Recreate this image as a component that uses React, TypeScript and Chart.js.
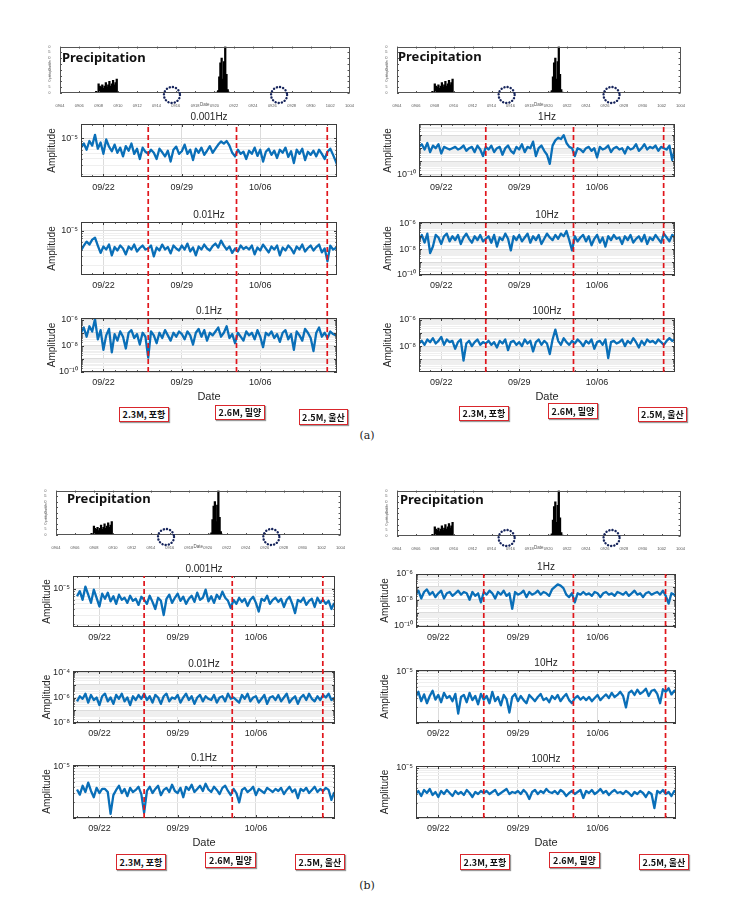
import React, { useEffect, useRef } from 'react';
import { Chart, registerables } from 'chart.js';

Chart.register(...registerables);

const SANS = '"Liberation Sans", Arial, Helvetica, sans-serif';
const KR = '"Noto Sans CJK KR", "Noto Sans", sans-serif';
const AXIS = '#3c3c3c';
const TEXT = '#262626';
const BLUE = '#0a6fb8';
const RED = '#e0161c';
const GRID_MAJOR = '#dcdcdc';
const GRID_MINOR = '#efefef';

// ---------------- data ----------------
// time axis: days since 09/20 00:00, one sample every 6 hours
const SAMPLE_STEP_DAYS = 0.25;
const dateTickDays = [2, 9, 16];
const dateTickLabels = ['09/22', '09/29', '10/06'];
const eventDays = [6.0, 13.88, 21.98];
const eventLabels = ['2.3M, 포항', '2.6M, 밀양', '2.5M, 울산'];

// precipitation (same record shown in every panel)
const precipTickDays = [0, 2, 4, 6, 8, 10, 12, 14, 16, 18, 20, 22, 24, 26, 28, 30];
const precipTickLabels = ['0904', '0906', '0908', '0910', '0912', '0914', '0916', '0918', '0920', '0922', '0924', '0926', '0928', '0930', '1002', '1004'];
const precipYTicks = [0, 5, 10, 15, 20, 25, 30, 35, 40];
const precipDays = [3.75, 4.0, 4.12, 4.25, 4.38, 4.5, 4.62, 4.75, 4.88, 5.0, 5.12, 5.25, 5.38, 5.5, 5.62, 5.75, 5.88,
  16.25, 16.38, 16.5, 16.62, 16.75, 16.88, 17.0, 17.12, 17.25, 17.38, 17.5];
const precipMm = [1.5, 8, 6, 5, 7, 4, 6, 9, 5, 7, 10, 6, 8, 11, 7, 9, 12,
  0.8, 2, 14, 26, 30, 12, 27, 40, 16, 3, 0.8];
const circleDays = [11.6, 22.7];

// amplitude series, stored as log10(amplitude)
const ampA_0001Hz = [
  -5.18, -5.10, -5.22, -5.05, -5.14, -4.93, -5.20, -5.08, -5.30, -5.02, -5.16, -5.25,
  -5.12, -5.28, -5.18, -5.35, -5.15, -5.24, -5.10, -5.30, -5.20, -5.40, -5.18, -5.26,
  -5.30, -5.22, -5.28, -5.40, -5.20, -5.27, -5.35, -5.24, -5.45, -5.22, -5.16, -5.30,
  -5.25, -5.12, -5.30, -5.22, -5.42, -5.20, -5.28, -5.18, -5.32, -5.24, -5.15, -5.28,
  -5.20, -5.12, -5.06, -5.10, -5.05, -5.14, -5.28, -5.35, -5.22, -5.30, -5.26, -5.40,
  -5.24, -5.30, -5.18, -5.34, -5.22, -5.45, -5.26, -5.20, -5.32, -5.24, -5.38, -5.22,
  -5.28, -5.18, -5.36, -5.25, -5.48, -5.22, -5.30, -5.20, -5.42, -5.26, -5.32, -5.24,
  -5.35, -5.22, -5.30, -5.40, -5.26, -5.20, -5.32, -5.45, -5.60];
const ampA_001Hz = [
  -5.40, -5.30, -5.22, -5.28, -5.18, -5.14, -5.30, -5.45, -5.32, -5.38, -5.28, -5.50,
  -5.33, -5.40, -5.30, -5.36, -5.48, -5.32, -5.38, -5.28, -5.42, -5.35, -5.30, -5.38,
  -5.36, -5.30, -5.52, -5.34, -5.40, -5.28, -5.38, -5.33, -5.46, -5.30, -5.36, -5.40,
  -5.30, -5.38, -5.26, -5.42, -5.34, -5.50, -5.32, -5.38, -5.28, -5.36, -5.40, -5.31,
  -5.26, -5.34, -5.20, -5.30, -5.38, -5.32, -5.45, -5.36, -5.42, -5.30, -5.37, -5.33,
  -5.38, -5.30, -5.48, -5.34, -5.40, -5.28, -5.36, -5.44, -5.32, -5.38, -5.30, -5.50,
  -5.34, -5.40, -5.30, -5.36, -5.46, -5.32, -5.38, -5.28, -5.42, -5.35, -5.30, -5.40,
  -5.33, -5.28, -5.44, -5.36, -5.62, -5.30, -5.38, -5.35, -5.42];
const ampA_01Hz = [
  -7.0, -6.6, -7.3, -6.5, -6.9, -5.95, -7.5, -6.8, -8.3, -7.2, -6.7, -8.5,
  -7.1, -7.6, -6.9, -7.3, -8.2, -7.0, -6.8, -7.4, -7.1, -7.9, -7.0, -7.3,
  -8.9, -6.9, -7.2, -7.8, -7.0, -7.4, -6.8, -7.2, -7.6, -7.0, -7.3, -6.9,
  -7.1, -7.5, -6.9, -7.2, -7.9, -7.0, -6.7, -7.3, -6.8, -7.6, -7.0, -7.2,
  -6.9, -6.6, -7.3, -7.0, -6.5, -7.4, -7.1, -7.8, -7.0, -7.3, -7.6, -6.9,
  -7.2, -7.0, -7.5, -6.8, -7.3, -8.1, -7.0, -7.2, -6.9, -7.4, -7.1, -7.7,
  -7.0, -6.8, -7.5, -7.1, -8.3, -6.9, -7.2, -7.6, -6.7, -7.0, -7.4, -8.4,
  -7.0, -6.6, -7.3, -7.0, -7.4, -6.9, -7.1, -7.2, -7.0];
const ampA_1Hz = [
  -7.9, -7.7, -8.1, -7.6, -8.3, -7.8, -8.0, -7.7, -8.4, -7.9, -8.0, -8.1,
  -8.0, -7.9, -8.1, -8.0, -7.8, -8.2, -8.0, -7.9, -8.3, -7.8, -8.1, -8.6,
  -7.9, -8.1, -7.8, -8.3, -8.0, -7.9, -8.5, -8.0, -7.8, -8.2, -8.4, -7.9,
  -8.1, -7.7, -8.3, -7.9, -8.0, -7.5, -8.6, -8.0, -7.8, -8.2, -8.5, -9.2,
  -7.8, -7.4, -7.2, -7.3, -7.0, -7.6, -7.9, -8.0, -8.6, -8.0, -8.1, -8.3,
  -8.0, -7.9, -8.2, -8.0, -8.7, -7.9, -8.1, -8.0, -7.8, -8.3, -8.0, -7.9,
  -8.1, -8.0, -8.4, -7.9, -8.1, -8.0, -7.7, -8.2, -8.0, -7.7, -8.1, -7.9,
  -8.0, -7.8, -8.2, -7.9, -8.0, -8.1, -7.8, -8.9, -8.0];
const ampA_10Hz = [
  -7.3, -6.9, -7.5, -6.8, -8.3, -7.8, -6.9, -7.1, -7.6, -7.0, -6.8, -7.4,
  -7.0, -7.3, -6.9, -7.6, -7.1, -6.8, -7.2, -7.5, -7.0, -7.3, -6.9, -7.4,
  -7.2, -7.0, -7.5, -6.9, -7.8, -7.1, -7.3, -6.8, -7.2, -8.1, -7.0, -7.3,
  -6.9, -7.4, -7.1, -6.8, -7.5, -7.0, -7.3, -6.9, -7.6, -7.2, -6.8, -7.1,
  -7.3, -6.9, -7.2, -6.8, -7.0, -6.6, -7.3, -8.1, -7.0, -7.4, -7.1, -6.9,
  -7.4, -7.0, -7.7, -7.2, -6.9, -7.5, -7.1, -7.8, -7.0, -7.3, -6.9, -7.2,
  -7.1, -7.6, -7.0, -7.3, -6.9, -7.5, -7.2, -7.0, -7.4, -6.9, -7.6, -7.1,
  -7.3, -6.9, -7.2, -7.5, -6.8, -7.1, -7.4, -6.9, -7.0];
const ampA_100Hz = [
  -7.8, -7.6, -7.9, -7.5, -7.7, -7.4, -7.8, -7.6, -7.3, -7.9, -7.5, -7.7,
  -7.6, -8.2, -7.7, -7.5, -9.1, -7.8, -7.6, -8.0, -7.7, -7.5, -7.9, -7.7,
  -7.8, -7.6, -7.9, -7.7, -8.1, -7.6, -7.8, -7.5, -8.3, -7.7, -7.6, -7.9,
  -7.7, -8.0, -7.5, -7.8, -7.6, -8.4, -7.7, -7.5, -7.9, -7.6, -7.8, -8.6,
  -7.5, -6.75, -7.6, -7.9, -7.4, -7.7, -7.9, -7.6, -7.8, -7.5, -7.7, -8.0,
  -7.6, -7.8, -7.5, -8.2, -7.7, -7.6, -7.9, -7.5, -8.9, -7.7, -7.6, -7.8,
  -7.7, -7.5, -8.0, -7.6, -7.8, -7.4, -7.7, -8.1, -7.6, -7.9, -7.5, -7.7,
  -7.6, -7.8, -7.5, -7.7, -7.9, -7.6, -7.4, -7.6, -7.5];
const ampB_0001Hz = [
  -5.15, -5.05, -5.22, -4.96, -5.12, -5.28, -5.02, -5.18, -5.35, -5.10, -5.20, -5.08,
  -5.25, -5.15, -5.30, -5.12, -5.22, -5.18, -5.28, -5.14, -5.24, -5.20, -5.32, -5.16,
  -5.22, -5.30, -5.14, -5.26, -5.40, -5.18, -5.24, -5.52, -5.20, -5.12, -5.28, -5.18,
  -5.10, -5.24, -5.16, -5.30, -5.20, -5.14, -5.26, -5.08, -5.22, -5.18, -5.02, -5.25,
  -5.15, -5.28, -5.12, -5.20, -5.06, -5.18, -5.24, -5.38, -5.22, -5.30, -5.18, -5.26,
  -5.20, -5.34, -5.22, -5.16, -5.28, -5.45, -5.20, -5.24, -5.14, -5.30, -5.22, -5.18,
  -5.26, -5.20, -5.36, -5.22, -5.16, -5.30, -5.48, -5.22, -5.26, -5.18, -5.32, -5.24,
  -5.20, -5.36, -5.18, -5.28, -5.22, -5.30, -5.24, -5.40, -5.28];
const ampB_001Hz = [
  -6.3, -5.9, -6.1, -5.7, -6.4, -5.8, -6.2, -6.0, -6.6, -5.9, -5.7, -6.3,
  -6.0, -6.5, -5.8, -6.1, -5.7, -6.3, -6.0, -6.6, -5.9, -6.2, -5.8, -6.1,
  -5.7, -6.2, -5.9, -6.4, -5.8, -6.0, -6.5, -5.9, -5.7, -6.3, -6.0, -6.1,
  -5.8, -6.4, -6.0, -5.7, -6.2, -5.9, -6.5, -6.0, -5.8, -6.3, -5.9, -6.1,
  -6.2, -5.8, -6.4, -6.0, -5.9, -6.3, -5.7, -6.1, -6.0, -6.2, -6.4, -5.8,
  -6.1, -5.7, -6.3, -6.0, -5.9, -6.4, -6.1, -5.8, -6.5, -6.0, -5.9, -6.2,
  -5.8, -6.3, -6.0, -5.7, -6.4, -6.1, -5.9, -6.5, -6.0, -5.8, -6.2, -5.7,
  -6.1, -6.3, -5.9, -6.2, -5.8, -6.0, -5.7, -6.2, -6.0];
const ampB_01Hz = [
  -5.45, -5.55, -5.38, -5.50, -5.32, -5.48, -5.60, -5.42, -5.52, -5.44, -5.44, -5.50,
  -5.92, -5.56, -5.46, -5.38, -5.52, -5.44, -5.58, -5.42, -5.50, -5.46, -5.40, -5.54,
  -5.90, -5.48, -5.40, -5.52, -5.44, -5.38, -5.56, -5.46, -5.42, -5.50, -5.36, -5.48,
  -5.52, -5.42, -5.60, -5.40, -5.46, -5.36, -5.50, -5.44, -5.38, -5.48, -5.34, -5.45,
  -5.50, -5.40, -5.46, -5.54, -5.42, -5.38, -5.48, -5.56, -5.44, -5.52, -5.70, -5.46,
  -5.42, -5.50, -5.46, -5.40, -5.56, -5.44, -5.48, -5.52, -5.42, -5.46, -5.50, -5.44,
  -5.48, -5.42, -5.54, -5.46, -5.40, -5.50, -5.45, -5.62, -5.44, -5.48, -5.42, -5.52,
  -5.46, -5.40, -5.50, -5.44, -5.48, -5.42, -5.46, -5.65, -5.50];
const ampB_1Hz = [
  -7.6, -7.3, -7.9, -7.4, -7.2, -7.6, -7.4, -7.8, -7.5, -7.3, -7.9, -7.5,
  -7.4, -7.7, -7.5, -7.3, -7.6, -7.4, -7.5, -8.0, -7.4, -7.7, -7.5, -8.2,
  -7.4, -7.6, -7.3, -7.5, -7.9, -7.4, -7.6, -7.3, -7.7, -7.5, -8.7, -7.4,
  -7.6, -7.5, -7.3, -7.8, -7.4, -7.6, -7.5, -7.3, -7.6, -7.4, -7.5, -7.7,
  -7.2, -7.0, -6.8, -6.9, -7.1, -7.6, -7.8, -7.5, -8.2, -7.5, -7.6, -7.4,
  -7.6, -7.5, -7.7, -7.4, -7.5, -7.8, -7.5, -7.4, -7.6, -7.5, -7.7, -7.4,
  -7.5, -7.6, -7.4, -7.7, -7.5, -7.3, -7.6, -7.5, -7.8, -7.5, -7.4, -7.6,
  -7.5, -7.4, -7.6, -7.3, -7.7, -8.3, -7.5, -7.6, -7.8];
const ampB_10Hz = [
  -5.50, -5.40, -5.58, -5.45, -5.62, -5.48, -5.38, -5.55, -5.46, -5.60, -5.42, -5.52,
  -5.48, -5.58, -5.44, -5.82, -5.50, -5.46, -5.60, -5.42, -5.56, -5.48, -5.64, -5.44,
  -5.55, -5.48, -5.62, -5.40, -5.58, -5.50, -5.66, -5.46, -5.54, -5.80, -5.50, -5.44,
  -5.58, -5.48, -5.56, -5.62, -5.46, -5.52, -5.58, -5.50, -5.44, -5.56, -5.52, -5.60,
  -5.48, -5.54, -5.46, -5.58, -5.50, -5.44, -5.56, -5.62, -5.52, -5.48, -5.55, -5.50,
  -5.56, -5.50, -5.58, -5.52, -5.46, -5.56, -5.50, -5.45, -5.52, -5.42, -5.50, -5.46,
  -5.40, -5.48, -5.70, -5.42, -5.38, -5.46, -5.36, -5.44, -5.40, -5.34, -5.48, -5.38,
  -5.36, -5.44, -5.62, -5.35, -5.40, -5.33, -5.45, -5.38, -5.36];
const ampB_100Hz = [
  -5.52, -5.46, -5.56, -5.44, -5.50, -5.42, -5.54, -5.48, -5.58, -5.46, -5.52, -5.44,
  -5.50, -5.56, -5.46, -5.52, -5.48, -5.54, -5.44, -5.50, -5.58, -5.48, -5.52, -5.46,
  -5.50, -5.46, -5.52, -5.48, -5.44, -5.54, -5.50, -5.46, -5.42, -5.52, -5.48, -5.50,
  -5.46, -5.52, -5.44, -5.50, -5.62, -5.48, -5.44, -5.52, -5.46, -5.50, -5.42, -5.48,
  -5.50, -5.46, -5.52, -5.44, -5.48, -5.56, -5.50, -5.46, -5.52, -5.48, -5.44, -5.60,
  -5.46, -5.50, -5.44, -5.52, -5.48, -5.42, -5.50, -5.46, -5.54, -5.48, -5.44, -5.50,
  -5.48, -5.52, -5.46, -5.50, -5.56, -5.48, -5.52, -5.46, -5.50, -5.58, -5.48, -5.52,
  -5.80, -5.46, -5.50, -5.44, -5.52, -5.48, -5.56, -5.46, -5.50];

// ---------------- layout constants ----------------
const Y_W = 42;
const TITLE_H = 14;
const X_H = 18;
const X_H_DATE = 34;
const R_PAD = 6;
const P_YW = 12;
const P_TOP = 3;
const P_XH = 16;

const SUP: Record<string, string> = { '-': '⁻', '0': '⁰', '1': '¹', '2': '²', '3': '³', '4': '⁴', '5': '⁵', '6': '⁶', '7': '⁷', '8': '⁸', '9': '⁹' };
const pow10 = (e: number) => '10' + String(e).split('').map((c) => SUP[c] || c).join('');

type Row = { title: string; values: number[]; yMin: number; yMax: number; yLabels: number[]; top: number; h: number };
type Col = {
  key: string; boxL: number; boxW: number; xMin: number; xMax: number; ampPad: number;
  rows: Row[]; precip: [number, number, number, number]; precipText: [number, number];
  events: [number, number, number, number][];
};

const columns: Col[] = [
  {
    key: 'aL', boxL: 81, boxW: 256, xMin: 0, xMax: 22.85, ampPad: 7,
    precip: [60, 46, 292, 47], precipText: [62, 57],
    rows: [
      { title: '0.001Hz', values: ampA_0001Hz, yMin: -5.75, yMax: -4.72, yLabels: [-5], top: 124, h: 53 },
      { title: '0.01Hz', values: ampA_001Hz, yMin: -5.9, yMax: -4.82, yLabels: [-5], top: 222, h: 53 },
      { title: '0.1Hz', values: ampA_01Hz, yMin: -10, yMax: -5.87, yLabels: [-6, -8, -10], top: 318, h: 54 },
    ],
    events: [[119, 407, 50, 15], [215, 405, 50, 15], [299, 409, 49, 16]],
  },
  {
    key: 'aR', boxL: 419, boxW: 256, xMin: 0, xMax: 23.0, ampPad: 5,
    precip: [397, 46, 286, 47], precipText: [398, 56],
    rows: [
      { title: '1Hz', values: ampA_1Hz, yMin: -10.2, yMax: -6.15, yLabels: [-10], top: 124, h: 53 },
      { title: '10Hz', values: ampA_10Hz, yMin: -10, yMax: -5.9, yLabels: [-6, -8, -10], top: 222, h: 53 },
      { title: '100Hz', values: ampA_100Hz, yMin: -9.96, yMax: -5.87, yLabels: [-6, -8, -10], top: 318, h: 54 },
    ],
    events: [[459, 406, 50, 15], [548, 403, 50, 16], [638, 407, 49, 15]],
  },
  {
    key: 'bL', boxL: 73, boxW: 262, xMin: -0.36, xMax: 23.07, ampPad: 10,
    precip: [56, 490, 287, 45], precipText: [67, 498],
    rows: [
      { title: '0.001Hz', values: ampB_0001Hz, yMin: -5.753, yMax: -4.753, yLabels: [-5], top: 576, h: 51 },
      { title: '0.01Hz', values: ampB_001Hz, yMin: -8.0, yMax: -3.92, yLabels: [-4, -6, -8], top: 671, h: 52 },
      { title: '0.1Hz', values: ampB_01Hz, yMin: -6.0, yMax: -4.98, yLabels: [-5], top: 765, h: 53 },
    ],
    events: [[116, 854, 50, 16], [205, 852, 51, 16], [295, 854, 50, 16]],
  },
  {
    key: 'bR', boxL: 416, boxW: 260, xMin: 0.04, xMax: 22.9, ampPad: 5,
    precip: [397, 490, 286, 46], precipText: [400, 499],
    rows: [
      { title: '1Hz', values: ampB_1Hz, yMin: -10.12, yMax: -6.0, yLabels: [-6, -8, -10], top: 574, h: 53 },
      { title: '10Hz', values: ampB_10Hz, yMin: -6.0, yMax: -4.98, yLabels: [-5], top: 670, h: 53 },
      { title: '100Hz', values: ampB_100Hz, yMin: -6.0, yMax: -4.96, yLabels: [-5], top: 766, h: 52 },
    ],
    events: [[460, 854, 50, 16], [549, 852, 51, 16], [639, 854, 50, 16]],
  },
];

// ---------------- plugin: MATLAB-style box with inward ticks ----------------
const matlabBox = {
  id: 'matlabBox',
  afterDraw(chart: any, _args: any, opts: any) {
    if (!opts || !opts.enabled) return;
    const { ctx, chartArea: a } = chart;
    const xs = chart.scales.x;
    const ys = chart.scales.y;
    const major = opts.tickLen ?? 3;
    ctx.save();
    ctx.strokeStyle = opts.color || AXIS;
    ctx.lineWidth = 1;
    ctx.beginPath();
    const xl = (v: number, len: number) => {
      const px = Math.round(xs.getPixelForValue(v)) + 0.5;
      if (px < a.left || px > a.right) return;
      ctx.moveTo(px, a.bottom); ctx.lineTo(px, a.bottom - len);
      ctx.moveTo(px, a.top); ctx.lineTo(px, a.top + len);
    };
    for (const t of xs.ticks) xl(t.value, major);
    for (const d of opts.minorX || []) xl(d, major * 0.6);
    for (const t of ys.ticks) {
      const py = Math.round(ys.getPixelForValue(t.value)) + 0.5;
      const len = Number.isInteger(t.value) ? major : major * 0.55;
      ctx.moveTo(a.left, py); ctx.lineTo(a.left + len, py);
      ctx.moveTo(a.right, py); ctx.lineTo(a.right - len, py);
    }
    ctx.stroke();
    ctx.strokeRect(Math.round(a.left) + 0.5, Math.round(a.top) + 0.5, Math.round(a.right - a.left) - 1, Math.round(a.bottom - a.top) - 1);
    if (opts.circles) {
      ctx.setLineDash([0.1, 3.1]);
      ctx.lineCap = 'round';
      ctx.lineWidth = 2.4;
      ctx.strokeStyle = '#17255c';
      for (const d of opts.circles) {
        const cx = xs.getPixelForValue(d);
        ctx.beginPath();
        ctx.arc(cx, a.bottom + 2, 8, 0, Math.PI * 2);
        ctx.stroke();
      }
    }
    ctx.restore();
  },
};
Chart.register(matlabBox);

// ---------------- chart configs ----------------
function lineConfig(r: Row, col: Col, showDate: boolean): any {
  const ticksY: number[] = [];
  for (let n = Math.floor(r.yMin); n <= Math.ceil(r.yMax); n++) {
    for (let k = 1; k <= 9; k++) {
      const v = n + Math.log10(k);
      if (v >= r.yMin - 1e-9 && v <= r.yMax + 1e-9) ticksY.push(v);
    }
  }
  const minorX: number[] = [];
  for (let d = Math.ceil(col.xMin); d <= col.xMax; d++) minorX.push(d);
  return {
    type: 'line',
    data: {
      datasets: [{
        data: r.values.map((v, i) => ({ x: i * SAMPLE_STEP_DAYS, y: v })),
        borderColor: BLUE, borderWidth: 2.3, pointRadius: 0, tension: 0, fill: false,
        borderJoinStyle: 'round',
      }],
    },
    options: {
      animation: false, responsive: false, events: [],
      layout: { padding: { left: 0, right: R_PAD, top: 0, bottom: 0 } },
      plugins: {
        legend: { display: false }, tooltip: { enabled: false },
        title: {
          display: true, text: r.title, fullSize: false, color: TEXT,
          font: { family: SANS, size: 10, weight: 'normal', lineHeight: 1.2 }, padding: { top: 1, bottom: 1 },
        },
        matlabBox: { enabled: true, minorX, tickLen: 3 },
      },
      scales: {
        x: {
          type: 'linear', min: col.xMin, max: col.xMax,
          afterBuildTicks: (s: any) => { s.ticks = dateTickDays.map((v) => ({ value: v })); },
          afterFit: (s: any) => { s.height = showDate ? X_H_DATE : X_H; },
          ticks: {
            autoSkip: false, maxRotation: 0, padding: 5.5, color: TEXT, font: { family: SANS, size: 9 },
            callback: (v: number) => dateTickLabels[dateTickDays.indexOf(v)] ?? '',
          },
          grid: { color: GRID_MAJOR, drawTicks: false },
          border: { display: false },
          title: { display: showDate, text: 'Date', color: TEXT, font: { family: SANS, size: 11 }, padding: { top: 0, bottom: 2 } },
        },
        y: {
          type: 'linear', min: r.yMin, max: r.yMax,
          afterBuildTicks: (s: any) => { s.ticks = ticksY.map((v) => ({ value: v })); },
          afterFit: (s: any) => { s.width = Y_W; },
          ticks: {
            autoSkip: false, padding: 3, color: TEXT, font: { family: SANS, size: 9 },
            callback: (v: number) => (r.yLabels.includes(v) ? pow10(v) : ''),
          },
          grid: { color: (c: any) => (c.tick && Number.isInteger(c.tick.value) ? GRID_MAJOR : GRID_MINOR), drawTicks: false },
          border: { display: false },
          title: { display: true, text: 'Amplitude', color: TEXT, font: { family: SANS, size: 10 }, padding: { top: col.ampPad, bottom: 0 } },
        },
      },
    },
  };
}

function eventConfig(col: Col): any {
  return {
    type: 'line',
    data: {
      datasets: eventDays.map((d) => ({
        data: [{ x: d, y: 0 }, { x: d, y: 1 }],
        borderColor: RED, borderWidth: 1.7, borderDash: [5, 3], pointRadius: 0, fill: false,
      })),
    },
    options: {
      animation: false, responsive: false, events: [],
      layout: { padding: 0 },
      plugins: { legend: { display: false }, tooltip: { enabled: false }, title: { display: false } },
      scales: {
        x: { type: 'linear', min: col.xMin, max: col.xMax, display: false },
        y: { type: 'linear', min: 0, max: 1, display: false },
      },
    },
  };
}

function precipConfig(): any {
  return {
    type: 'bar',
    data: {
      datasets: [{
        data: precipDays.map((d, i) => ({ x: d, y: precipMm[i] })),
        backgroundColor: '#000', borderWidth: 0, barThickness: 1.6,
      }],
    },
    options: {
      animation: false, responsive: false, events: [],
      layout: { padding: { left: 0, right: 4, top: P_TOP, bottom: 0 } },
      plugins: {
        legend: { display: false }, tooltip: { enabled: false }, title: { display: false },
        matlabBox: { enabled: true, minorX: [], tickLen: 2, color: '#555', circles: circleDays },
      },
      scales: {
        x: {
          type: 'linear', offset: false, min: 0, max: 30,
          afterBuildTicks: (s: any) => { s.ticks = precipTickDays.map((v) => ({ value: v })); },
          afterFit: (s: any) => { s.height = P_XH; },
          ticks: {
            autoSkip: false, maxRotation: 0, padding: 2, color: '#555', font: { family: SANS, size: 4 },
            callback: (v: number) => precipTickLabels[precipTickDays.indexOf(v)] ?? '',
          },
          grid: { display: false },
          border: { display: false },
          title: { display: true, text: 'Date', color: '#555', font: { family: SANS, size: 4.5 }, padding: { top: 0, bottom: 2 } },
        },
        y: {
          type: 'linear', min: 0, max: 40,
          afterBuildTicks: (s: any) => { s.ticks = precipYTicks.map((v) => ({ value: v })); },
          afterFit: (s: any) => { s.width = P_YW; },
          ticks: { autoSkip: false, padding: 1.5, color: '#555', font: { family: SANS, size: 3.5 } },
          grid: { display: false },
          border: { display: false },
          title: { display: true, text: 'precipitation', color: '#555', font: { family: SANS, size: 3.5 }, padding: { top: 0, bottom: 0 } },
        },
      },
    },
  };
}

// ---------------- components ----------------
function ChartCanvas({ config, left, top, width, height, z }: { config: any; left: number; top: number; width: number; height: number; z?: number }) {
  const ref = useRef<HTMLCanvasElement>(null);
  useEffect(() => {
    const chart = new Chart(ref.current as HTMLCanvasElement, config);
    return () => chart.destroy();
  }, []);
  return (
    <canvas
      ref={ref}
      width={width}
      height={height}
      style={{ position: 'absolute', left, top, width, height, zIndex: z ?? 1, pointerEvents: 'none' }}
    />
  );
}

function Column({ col }: { col: Col }) {
  const [pl, pt, pw, ph] = col.precip;
  const first = col.rows[0];
  const last = col.rows[col.rows.length - 1];
  return (
    <>
      <ChartCanvas config={precipConfig()} left={pl - P_YW} top={pt - P_TOP} width={P_YW + pw + 4} height={P_TOP + ph + P_XH} />
      <div style={{
        position: 'absolute', left: col.precipText[0], top: col.precipText[1] - 9, zIndex: 3,
        font: `bold 13px ${'"Noto Sans", "Open Sans", sans-serif'}`, color: '#111', lineHeight: '18px', whiteSpace: 'nowrap',
      }}>Precipitation</div>
      {col.rows.map((r, i) => {
        const showDate = i === col.rows.length - 1;
        const xh = showDate ? X_H_DATE : X_H;
        return (
          <ChartCanvas
            key={r.title}
            config={lineConfig(r, col, showDate)}
            left={col.boxL - Y_W}
            top={r.top - TITLE_H}
            width={Y_W + col.boxW + R_PAD}
            height={TITLE_H + r.h + xh}
          />
        );
      })}
      <ChartCanvas
        config={eventConfig(col)}
        left={col.boxL}
        top={first.top}
        width={col.boxW}
        height={last.top + last.h - first.top}
        z={2}
      />
      {col.events.map((e, i) => (
        <div key={i} style={{
          position: 'absolute', left: e[0], top: e[1], width: e[2], height: e[3], boxSizing: 'border-box',
          border: '1.5px solid #d9262c', background: '#fff', boxShadow: '1px 1px 1px #9a9a9a',
          font: `bold 9px ${KR}`, color: '#111', display: 'flex', alignItems: 'center', justifyContent: 'center',
          whiteSpace: 'nowrap', zIndex: 3,
        }}>{eventLabels[i]}</div>
      ))}
    </>
  );
}

export default function App() {
  return (
    <div style={{ position: 'absolute', left: 0, top: 0, width: 734, height: 922, background: '#fff', overflow: 'hidden' }}>
      {columns.map((c) => <Column key={c.key} col={c} />)}
      <div style={{ position: 'absolute', left: 0, width: 734, top: 429, textAlign: 'center', font: '11px "DejaVu Serif", "Liberation Serif", serif', color: '#222' }}>(a)</div>
      <div style={{ position: 'absolute', left: 0, width: 734, top: 879, textAlign: 'center', font: '11px "DejaVu Serif", "Liberation Serif", serif', color: '#222' }}>(b)</div>
    </div>
  );
}
